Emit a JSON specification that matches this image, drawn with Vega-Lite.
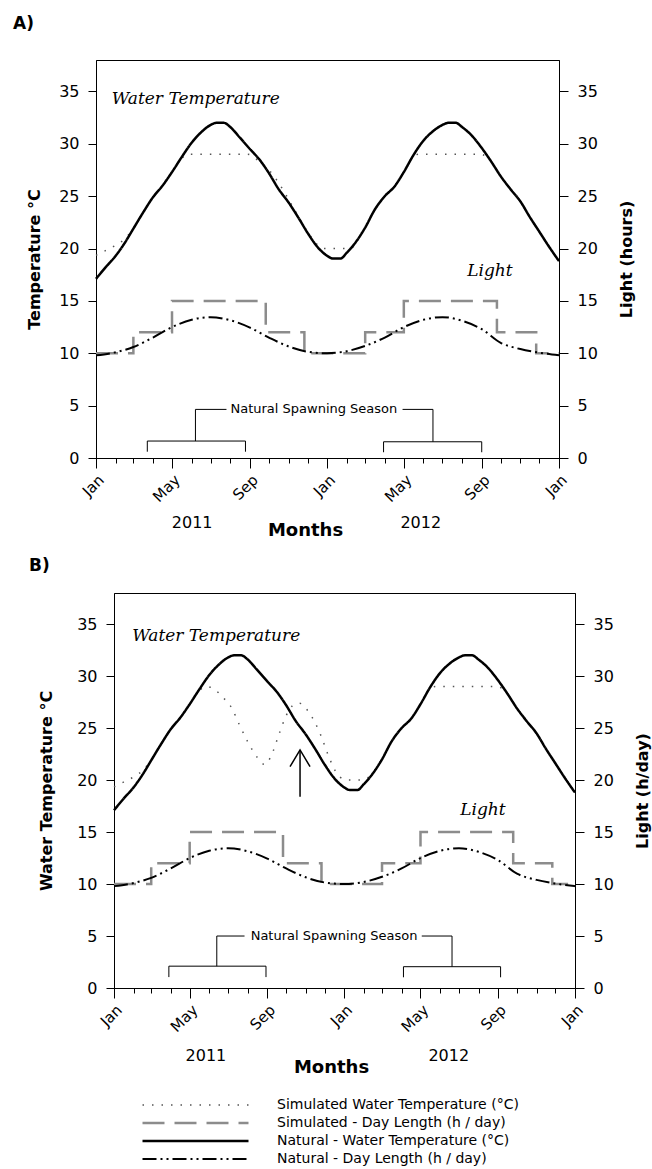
{
  "$schema": "https://vega.github.io/schema/vega-lite/v6.json",
  "background": "white",
  "padding": {"left": 12, "top": 14, "right": 2, "bottom": 2},
  "bounds": "flush",
  "spacing": 135,
  "config": {
    "view": {"stroke": "#000", "strokeWidth": 1},
    "font": "DejaVu Sans",
    "axis": {"grid": false, "domainColor": "#000", "domainWidth": 1, "tickColor": "#000", "tickWidth": 1, "labelColor": "#000", "titleColor": "#000", "labelFont": "DejaVu Sans", "titleFont": "DejaVu Sans", "labelFontSize": 16, "titleFontSize": 16, "titleFontWeight": "bold"},
    "line": {"strokeCap": "butt"}
  },
  "datasets": {
    "natTemp": [
      {"s": "NT", "t": "2011/01/01", "v": 17.1}, {"s": "NT", "t": "2011/01/16", "v": 18.2}, {"s": "NT", "t": "2011/02/01", "v": 19.3}, {"s": "NT", "t": "2011/02/15", "v": 20.5},
      {"s": "NT", "t": "2011/03/01", "v": 21.9}, {"s": "NT", "t": "2011/03/16", "v": 23.4}, {"s": "NT", "t": "2011/04/01", "v": 24.9}, {"s": "NT", "t": "2011/04/16", "v": 26.0},
      {"s": "NT", "t": "2011/05/01", "v": 27.3}, {"s": "NT", "t": "2011/05/16", "v": 28.7}, {"s": "NT", "t": "2011/06/01", "v": 30.1}, {"s": "NT", "t": "2011/06/16", "v": 31.1},
      {"s": "NT", "t": "2011/07/01", "v": 31.8}, {"s": "NT", "t": "2011/07/10", "v": 32.0}, {"s": "NT", "t": "2011/07/22", "v": 32.0}, {"s": "NT", "t": "2011/08/01", "v": 31.6},
      {"s": "NT", "t": "2011/08/16", "v": 30.6}, {"s": "NT", "t": "2011/09/01", "v": 29.5}, {"s": "NT", "t": "2011/09/16", "v": 28.5}, {"s": "NT", "t": "2011/10/01", "v": 27.2},
      {"s": "NT", "t": "2011/10/16", "v": 25.7}, {"s": "NT", "t": "2011/11/01", "v": 24.4}, {"s": "NT", "t": "2011/11/16", "v": 23.0}, {"s": "NT", "t": "2011/12/01", "v": 21.5},
      {"s": "NT", "t": "2011/12/16", "v": 20.2}, {"s": "NT", "t": "2012/01/01", "v": 19.3}, {"s": "NT", "t": "2012/01/10", "v": 19.05}, {"s": "NT", "t": "2012/01/22", "v": 19.05},
      {"s": "NT", "t": "2012/02/01", "v": 19.6}, {"s": "NT", "t": "2012/02/15", "v": 20.6}, {"s": "NT", "t": "2012/03/01", "v": 22.0}, {"s": "NT", "t": "2012/03/16", "v": 23.7},
      {"s": "NT", "t": "2012/04/01", "v": 25.0}, {"s": "NT", "t": "2012/04/16", "v": 25.9}, {"s": "NT", "t": "2012/05/01", "v": 27.3}, {"s": "NT", "t": "2012/05/16", "v": 28.9},
      {"s": "NT", "t": "2012/06/01", "v": 30.3}, {"s": "NT", "t": "2012/06/16", "v": 31.2}, {"s": "NT", "t": "2012/07/01", "v": 31.8}, {"s": "NT", "t": "2012/07/10", "v": 32.0},
      {"s": "NT", "t": "2012/07/22", "v": 32.0}, {"s": "NT", "t": "2012/08/01", "v": 31.6}, {"s": "NT", "t": "2012/08/16", "v": 30.8}, {"s": "NT", "t": "2012/09/01", "v": 29.6},
      {"s": "NT", "t": "2012/09/16", "v": 28.3}, {"s": "NT", "t": "2012/10/01", "v": 26.9}, {"s": "NT", "t": "2012/10/16", "v": 25.7}, {"s": "NT", "t": "2012/11/01", "v": 24.5},
      {"s": "NT", "t": "2012/11/16", "v": 23.0}, {"s": "NT", "t": "2012/12/01", "v": 21.6}, {"s": "NT", "t": "2012/12/16", "v": 20.2}, {"s": "NT", "t": "2013/01/01", "v": 18.8}
    ],
    "natLight": [
      {"s": "NL", "t": "2011/01/01", "v": 9.8}, {"s": "NL", "t": "2011/02/01", "v": 10.1}, {"s": "NL", "t": "2011/03/01", "v": 10.6}, {"s": "NL", "t": "2011/04/01", "v": 11.5},
      {"s": "NL", "t": "2011/05/01", "v": 12.5}, {"s": "NL", "t": "2011/06/01", "v": 13.2}, {"s": "NL", "t": "2011/07/01", "v": 13.45}, {"s": "NL", "t": "2011/08/01", "v": 13.15},
      {"s": "NL", "t": "2011/09/01", "v": 12.45}, {"s": "NL", "t": "2011/10/01", "v": 11.5}, {"s": "NL", "t": "2011/11/01", "v": 10.65}, {"s": "NL", "t": "2011/12/01", "v": 10.15},
      {"s": "NL", "t": "2012/01/01", "v": 10.0}, {"s": "NL", "t": "2012/02/01", "v": 10.2}, {"s": "NL", "t": "2012/03/01", "v": 10.7}, {"s": "NL", "t": "2012/04/01", "v": 11.5},
      {"s": "NL", "t": "2012/05/01", "v": 12.5}, {"s": "NL", "t": "2012/06/01", "v": 13.2}, {"s": "NL", "t": "2012/07/01", "v": 13.45}, {"s": "NL", "t": "2012/08/01", "v": 13.1},
      {"s": "NL", "t": "2012/09/01", "v": 12.3}, {"s": "NL", "t": "2012/10/01", "v": 11.0}, {"s": "NL", "t": "2012/11/01", "v": 10.4}, {"s": "NL", "t": "2012/12/01", "v": 10.05},
      {"s": "NL", "t": "2013/01/01", "v": 9.8}
    ],
    "simLight": [
      {"s": "SL", "t": "2011/01/01", "v": 10}, {"s": "SL", "t": "2011/03/01", "v": 12}, {"s": "SL", "t": "2011/05/01", "v": 15}, {"s": "SL", "t": "2011/09/26", "v": 12},
      {"s": "SL", "t": "2011/11/26", "v": 10}, {"s": "SL", "t": "2012/03/01", "v": 12}, {"s": "SL", "t": "2012/05/01", "v": 15}, {"s": "SL", "t": "2012/09/25", "v": 12},
      {"s": "SL", "t": "2012/11/26", "v": 10}, {"s": "SL", "t": "2013/01/01", "v": 10}
    ],
    "simTempA": [
      {"s": "ST", "t": "2011/01/01", "v": 19.35}, {"s": "ST", "t": "2011/01/16", "v": 19.8}, {"s": "ST", "t": "2011/02/01", "v": 20.3}, {"s": "ST", "t": "2011/02/15", "v": 20.9},
      {"s": "ST", "t": "2011/03/01", "v": 21.9}, {"s": "ST", "t": "2011/03/16", "v": 23.4}, {"s": "ST", "t": "2011/04/01", "v": 24.9}, {"s": "ST", "t": "2011/04/16", "v": 26.0},
      {"s": "ST", "t": "2011/05/01", "v": 27.3}, {"s": "ST", "t": "2011/05/16", "v": 28.6}, {"s": "ST", "t": "2011/05/27", "v": 29.0}, {"s": "ST", "t": "2011/07/01", "v": 29.0},
      {"s": "ST", "t": "2011/08/28", "v": 29.0}, {"s": "ST", "t": "2011/09/16", "v": 28.3}, {"s": "ST", "t": "2011/10/01", "v": 27.5}, {"s": "ST", "t": "2011/10/16", "v": 26.3},
      {"s": "ST", "t": "2011/11/01", "v": 24.7}, {"s": "ST", "t": "2011/11/16", "v": 23.1}, {"s": "ST", "t": "2011/12/01", "v": 21.6}, {"s": "ST", "t": "2011/12/16", "v": 20.4},
      {"s": "ST", "t": "2011/12/27", "v": 20.0}, {"s": "ST", "t": "2012/02/07", "v": 20.0}, {"s": "ST", "t": "2012/02/16", "v": 20.6}, {"s": "ST", "t": "2012/03/01", "v": 22.0},
      {"s": "ST", "t": "2012/03/16", "v": 23.7}, {"s": "ST", "t": "2012/04/01", "v": 25.0}, {"s": "ST", "t": "2012/04/16", "v": 25.9}, {"s": "ST", "t": "2012/05/01", "v": 27.3},
      {"s": "ST", "t": "2012/05/16", "v": 28.8}, {"s": "ST", "t": "2012/05/25", "v": 29.0}, {"s": "ST", "t": "2012/07/01", "v": 29.0}, {"s": "ST", "t": "2012/08/30", "v": 29.0},
      {"s": "ST", "t": "2012/09/16", "v": 28.3}, {"s": "ST", "t": "2012/10/01", "v": 26.9}, {"s": "ST", "t": "2012/10/16", "v": 25.7}, {"s": "ST", "t": "2012/11/01", "v": 24.5},
      {"s": "ST", "t": "2012/11/16", "v": 23.0}, {"s": "ST", "t": "2012/12/01", "v": 21.6}, {"s": "ST", "t": "2012/12/16", "v": 20.2}, {"s": "ST", "t": "2013/01/01", "v": 18.8}
    ],
    "simTempB": [
      {"s": "ST", "t": "2011/01/01", "v": 19.35}, {"s": "ST", "t": "2011/01/16", "v": 19.8}, {"s": "ST", "t": "2011/02/01", "v": 20.3}, {"s": "ST", "t": "2011/02/15", "v": 20.9},
      {"s": "ST", "t": "2011/03/01", "v": 21.9}, {"s": "ST", "t": "2011/03/16", "v": 23.4}, {"s": "ST", "t": "2011/04/01", "v": 24.9}, {"s": "ST", "t": "2011/04/16", "v": 26.0},
      {"s": "ST", "t": "2011/05/01", "v": 27.3}, {"s": "ST", "t": "2011/05/16", "v": 28.6}, {"s": "ST", "t": "2011/05/28", "v": 29.0}, {"s": "ST", "t": "2011/06/10", "v": 28.7},
      {"s": "ST", "t": "2011/06/22", "v": 28.0}, {"s": "ST", "t": "2011/07/07", "v": 26.9}, {"s": "ST", "t": "2011/07/19", "v": 25.3}, {"s": "ST", "t": "2011/08/01", "v": 23.7},
      {"s": "ST", "t": "2011/08/16", "v": 22.2}, {"s": "ST", "t": "2011/08/28", "v": 21.5}, {"s": "ST", "t": "2011/09/07", "v": 22.3}, {"s": "ST", "t": "2011/09/19", "v": 24.3},
      {"s": "ST", "t": "2011/10/01", "v": 26.2}, {"s": "ST", "t": "2011/10/10", "v": 27.1}, {"s": "ST", "t": "2011/10/22", "v": 27.4}, {"s": "ST", "t": "2011/11/04", "v": 26.7},
      {"s": "ST", "t": "2011/11/16", "v": 25.5}, {"s": "ST", "t": "2011/11/25", "v": 24.3}, {"s": "ST", "t": "2011/12/10", "v": 21.9}, {"s": "ST", "t": "2011/12/25", "v": 20.3},
      {"s": "ST", "t": "2012/01/07", "v": 20.0}, {"s": "ST", "t": "2012/01/28", "v": 20.0}, {"s": "ST", "t": "2012/02/13", "v": 20.5}, {"s": "ST", "t": "2012/03/01", "v": 22.0},
      {"s": "ST", "t": "2012/03/16", "v": 23.7}, {"s": "ST", "t": "2012/04/01", "v": 25.0}, {"s": "ST", "t": "2012/04/16", "v": 25.9}, {"s": "ST", "t": "2012/05/01", "v": 27.3},
      {"s": "ST", "t": "2012/05/16", "v": 28.8}, {"s": "ST", "t": "2012/05/25", "v": 29.0}, {"s": "ST", "t": "2012/07/01", "v": 29.0}, {"s": "ST", "t": "2012/08/30", "v": 29.0},
      {"s": "ST", "t": "2012/09/16", "v": 28.3}, {"s": "ST", "t": "2012/10/01", "v": 26.9}, {"s": "ST", "t": "2012/10/16", "v": 25.7}, {"s": "ST", "t": "2012/11/01", "v": 24.5},
      {"s": "ST", "t": "2012/11/16", "v": 23.0}, {"s": "ST", "t": "2012/12/01", "v": 21.6}, {"s": "ST", "t": "2012/12/16", "v": 20.2}, {"s": "ST", "t": "2013/01/01", "v": 18.8}
    ]
  },
  "vconcat": [
    {
      "width": 463,
      "height": 398,
      "title": {"text": "A)", "anchor": "start", "frame": "group", "dx": -83, "offset": 14, "baseline": "alphabetic", "fontSize": 17, "font": "DejaVu Sans", "fontWeight": "bold", "color": "#000"},
      "encoding": {
        "x": {"field": "t", "type": "temporal", "scale": {"domain": [{"year": 2011, "month": 1, "date": 1}, {"year": 2013, "month": 1, "date": 1}], "nice": false}, "axis": null},
        "y": {"field": "v", "type": "quantitative", "scale": {"domain": [0, 38], "nice": false}, "axis": null}
      },
      "layer": [
        {
          "data": {"name": "simLight"},
          "mark": {"type": "line", "interpolate": "step-after"},
          "encoding": {
            "color": {"field": "s", "type": "nominal", "scale": {"domain": ["ST", "SL", "NT", "NL"], "range": ["#555555", "#8c8c8c", "#000000", "#000000"]}, "legend": {"orient": "none", "legendX": 45, "legendY": 1037, "title": null, "symbolType": "stroke", "symbolSize": 11236, "clipHeight": 16, "rowPadding": 2, "padding": 0, "labelFont": "DejaVu Sans", "labelFontSize": 14, "labelColor": "#000", "labelOffset": 27, "labelLimit": 400, "labelExpr": "datum.label == 'ST' ? 'Simulated Water Temperature (°C)' : datum.label == 'SL' ? 'Simulated - Day Length (h / day)' : datum.label == 'NT' ? 'Natural - Water Temperature (°C)' : 'Natural - Day Length (h / day)'"}},
            "strokeDash": {"field": "s", "type": "nominal", "scale": {"domain": ["ST", "SL", "NT", "NL"], "range": [[1.5, 8], [22, 10], [1, 0], [14, 4, 2, 4, 2, 4]]}, "legend": {"orient": "none", "legendX": 45, "legendY": 1037, "title": null, "symbolType": "stroke", "symbolSize": 11236, "clipHeight": 16, "rowPadding": 2, "padding": 0, "labelFont": "DejaVu Sans", "labelFontSize": 14, "labelColor": "#000", "labelOffset": 27, "labelLimit": 400, "labelExpr": "datum.label == 'ST' ? 'Simulated Water Temperature (°C)' : datum.label == 'SL' ? 'Simulated - Day Length (h / day)' : datum.label == 'NT' ? 'Natural - Water Temperature (°C)' : 'Natural - Day Length (h / day)'"}},
            "strokeWidth": {"field": "s", "type": "nominal", "scale": {"type": "ordinal", "domain": ["ST", "SL", "NT", "NL"], "range": [1.5, 2.5, 2.5, 2]}, "legend": {"orient": "none", "legendX": 45, "legendY": 1037, "title": null, "symbolType": "stroke", "symbolSize": 11236, "clipHeight": 16, "rowPadding": 2, "padding": 0, "labelFont": "DejaVu Sans", "labelFontSize": 14, "labelColor": "#000", "labelOffset": 27, "labelLimit": 400, "labelExpr": "datum.label == 'ST' ? 'Simulated Water Temperature (°C)' : datum.label == 'SL' ? 'Simulated - Day Length (h / day)' : datum.label == 'NT' ? 'Natural - Water Temperature (°C)' : 'Natural - Day Length (h / day)'"}}
          }
        },
        {
          "data": {"name": "simTempA"},
          "mark": {"type": "line", "interpolate": "monotone"},
          "encoding": {
            "color": {"field": "s", "type": "nominal", "scale": {"domain": ["ST", "SL", "NT", "NL"], "range": ["#555555", "#8c8c8c", "#000000", "#000000"]}},
            "strokeDash": {"field": "s", "type": "nominal", "scale": {"domain": ["ST", "SL", "NT", "NL"], "range": [[1.5, 8], [22, 10], [1, 0], [14, 4, 2, 4, 2, 4]]}},
            "strokeWidth": {"field": "s", "type": "nominal", "scale": {"type": "ordinal", "domain": ["ST", "SL", "NT", "NL"], "range": [1.5, 2.5, 2.5, 2]}}
          }
        },
        {
          "data": {"name": "natLight"},
          "mark": {"type": "line", "interpolate": "monotone"},
          "encoding": {
            "color": {"field": "s", "type": "nominal", "scale": {"domain": ["ST", "SL", "NT", "NL"], "range": ["#555555", "#8c8c8c", "#000000", "#000000"]}},
            "strokeDash": {"field": "s", "type": "nominal", "scale": {"domain": ["ST", "SL", "NT", "NL"], "range": [[1.5, 8], [22, 10], [1, 0], [14, 4, 2, 4, 2, 4]]}},
            "strokeWidth": {"field": "s", "type": "nominal", "scale": {"type": "ordinal", "domain": ["ST", "SL", "NT", "NL"], "range": [1.5, 2.5, 2.5, 2]}}
          }
        },
        {
          "data": {"name": "natTemp"},
          "mark": {"type": "line", "interpolate": "monotone"},
          "encoding": {
            "x": {"field": "t", "type": "temporal", "scale": {"domain": [{"year": 2011, "month": 1, "date": 1}, {"year": 2013, "month": 1, "date": 1}], "nice": false},
              "axis": {"orient": "bottom", "tickCount": {"interval": "month", "step": 1}, "labelExpr": "month(datum.value) % 4 == 0 ? timeFormat(datum.value, '%b') : ''", "tickSize": {"condition": {"test": "month(datum.value) % 4 == 0", "value": 10}, "value": 5}, "labelAngle": -45, "labelAlign": "right", "labelBaseline": "top", "labelPadding": 4, "labelFontSize": 15, "labelFlush": false, "labelOverlap": false, "labelBound": false, "title": null}},
            "y": {"field": "v", "type": "quantitative", "scale": {"domain": [0, 38], "nice": false},
              "axis": {"orient": "left", "values": [0, 5, 10, 15, 20, 25, 30, 35], "tickSize": 8, "labelPadding": 9, "title": "Temperature °C", "titlePadding": 16}},
            "color": {"field": "s", "type": "nominal", "scale": {"domain": ["ST", "SL", "NT", "NL"], "range": ["#555555", "#8c8c8c", "#000000", "#000000"]}},
            "strokeDash": {"field": "s", "type": "nominal", "scale": {"domain": ["ST", "SL", "NT", "NL"], "range": [[1.5, 8], [22, 10], [1, 0], [14, 4, 2, 4, 2, 4]]}},
            "strokeWidth": {"field": "s", "type": "nominal", "scale": {"type": "ordinal", "domain": ["ST", "SL", "NT", "NL"], "range": [1.5, 2.5, 2.5, 2]}}
          }
        },
        {
          "data": {
            "values": [
              {"t": "2011/03/23", "t2": "2011/08/25", "v": 1.62, "v2": 1.62},
              {"t": "2011/03/23", "t2": "2011/03/23", "v": 1.62, "v2": 0.6},
              {"t": "2011/08/25", "t2": "2011/08/25", "v": 1.62, "v2": 0.6},
              {"t": "2011/06/07", "t2": "2011/06/07", "v": 1.62, "v2": 4.64},
              {"t": "2011/06/07", "t2": "2011/07/26", "v": 4.64, "v2": 4.64},
              {"t": "2012/04/29", "t2": "2012/06/16", "v": 4.64, "v2": 4.64},
              {"t": "2012/06/16", "t2": "2012/06/16", "v": 4.64, "v2": 1.55},
              {"t": "2012/03/30", "t2": "2012/09/01", "v": 1.55, "v2": 1.55},
              {"t": "2012/03/30", "t2": "2012/03/30", "v": 1.55, "v2": 0.55},
              {"t": "2012/09/01", "t2": "2012/09/01", "v": 1.55, "v2": 0.55}
            ],
            "format": {"parse": {"t": "date", "t2": "date"}}
          },
          "mark": {"type": "rule", "color": "#000", "strokeWidth": 1},
          "encoding": {
            "x": {"field": "t", "type": "temporal", "scale": {"domain": [{"year": 2011, "month": 1, "date": 1}, {"year": 2013, "month": 1, "date": 1}], "nice": false},
              "axis": {"orient": "bottom", "values": [{"year": 2011, "month": 6, "date": 1}, {"year": 2012, "month": 5, "date": 27}], "format": "%Y", "ticks": false, "tickSize": 0, "domain": false, "labelPadding": 64, "labelBaseline": "middle", "labelAngle": 0, "labelAlign": "center", "labelFontSize": 16, "labelFlush": false, "labelOverlap": false, "title": "Months", "titleFontSize": 18, "titleX": 209, "titleY": 72, "titleBaseline": "middle", "titleAlign": "center"}},
            "x2": {"field": "t2"},
            "y": {"field": "v", "type": "quantitative", "scale": {"domain": [0, 38], "nice": false},
              "axis": {"orient": "right", "values": [0, 5, 10, 15, 20, 25, 30, 35], "tickSize": 9, "labelPadding": 9, "title": "Light (hours)", "titlePadding": 21, "titleAngle": 270, "titleBaseline": "top"}},
            "y2": {"field": "v2"}
          }
        },
        {
          "data": {"values": [{"t": "2011/01/26", "v": 34.3, "label": "Water Temperature"}, {"t": "2012/08/09", "v": 17.9, "label": "Light"}]},
          "mark": {"type": "text", "align": "left", "baseline": "middle", "font": "DejaVu Serif", "fontStyle": "italic", "fontSize": 17, "color": "#000"},
          "encoding": {"text": {"field": "label"}}
        },
        {
          "data": {"values": [{"t": "2011/12/11", "v": 4.64, "label": "Natural Spawning Season"}]},
          "mark": {"type": "text", "align": "center", "baseline": "middle", "font": "DejaVu Sans", "fontSize": 13, "color": "#000"},
          "encoding": {"text": {"field": "label"}}
        }
      ],
      "resolve": {"axis": {"x": "independent", "y": "independent"}}
    },
    {
      "bounds": "flush",
      "spacing": 0,
      "hconcat": [
        {
          "width": 18,
          "height": 395,
          "view": {"stroke": null},
          "data": {"values": []},
          "mark": {"type": "point", "opacity": 0},
          "encoding": {}
        },
        {
          "width": 461,
          "height": 395,
          "title": {"text": "B)", "anchor": "start", "frame": "group", "dx": -85, "offset": 5, "baseline": "alphabetic", "fontSize": 17, "font": "DejaVu Sans", "fontWeight": "bold", "color": "#000"},
          "encoding": {
            "x": {"field": "t", "type": "temporal", "scale": {"domain": [{"year": 2011, "month": 1, "date": 1}, {"year": 2013, "month": 1, "date": 1}], "nice": false}, "axis": null},
            "y": {"field": "v", "type": "quantitative", "scale": {"domain": [0, 38], "nice": false}, "axis": null}
          },
          "layer": [
            {
              "data": {"name": "simLight"},
              "mark": {"type": "line", "interpolate": "step-after"},
              "encoding": {
                "color": {"field": "s", "type": "nominal", "scale": {"domain": ["ST", "SL", "NT", "NL"], "range": ["#555555", "#8c8c8c", "#000000", "#000000"]}},
                "strokeDash": {"field": "s", "type": "nominal", "scale": {"domain": ["ST", "SL", "NT", "NL"], "range": [[1.5, 8], [22, 10], [1, 0], [14, 4, 2, 4, 2, 4]]}},
                "strokeWidth": {"field": "s", "type": "nominal", "scale": {"type": "ordinal", "domain": ["ST", "SL", "NT", "NL"], "range": [1.5, 2.5, 2.5, 2]}}
              }
            },
            {
              "data": {"name": "simTempB"},
              "mark": {"type": "line", "interpolate": "monotone"},
              "encoding": {
                "color": {"field": "s", "type": "nominal", "scale": {"domain": ["ST", "SL", "NT", "NL"], "range": ["#555555", "#8c8c8c", "#000000", "#000000"]}},
                "strokeDash": {"field": "s", "type": "nominal", "scale": {"domain": ["ST", "SL", "NT", "NL"], "range": [[1.5, 8], [22, 10], [1, 0], [14, 4, 2, 4, 2, 4]]}},
                "strokeWidth": {"field": "s", "type": "nominal", "scale": {"type": "ordinal", "domain": ["ST", "SL", "NT", "NL"], "range": [1.5, 2.5, 2.5, 2]}}
              }
            },
            {
              "data": {"name": "natLight"},
              "mark": {"type": "line", "interpolate": "monotone"},
              "encoding": {
                "color": {"field": "s", "type": "nominal", "scale": {"domain": ["ST", "SL", "NT", "NL"], "range": ["#555555", "#8c8c8c", "#000000", "#000000"]}},
                "strokeDash": {"field": "s", "type": "nominal", "scale": {"domain": ["ST", "SL", "NT", "NL"], "range": [[1.5, 8], [22, 10], [1, 0], [14, 4, 2, 4, 2, 4]]}},
                "strokeWidth": {"field": "s", "type": "nominal", "scale": {"type": "ordinal", "domain": ["ST", "SL", "NT", "NL"], "range": [1.5, 2.5, 2.5, 2]}}
              }
            },
            {
              "data": {"name": "natTemp"},
              "mark": {"type": "line", "interpolate": "monotone"},
              "encoding": {
                "x": {"field": "t", "type": "temporal", "scale": {"domain": [{"year": 2011, "month": 1, "date": 1}, {"year": 2013, "month": 1, "date": 1}], "nice": false},
                  "axis": {"orient": "bottom", "tickCount": {"interval": "month", "step": 1}, "labelExpr": "month(datum.value) % 4 == 0 ? timeFormat(datum.value, '%b') : ''", "tickSize": {"condition": {"test": "month(datum.value) % 4 == 0", "value": 10}, "value": 5}, "labelAngle": -45, "labelAlign": "right", "labelBaseline": "top", "labelPadding": 4, "labelFontSize": 15, "labelFlush": false, "labelOverlap": false, "labelBound": false, "title": null}},
                "y": {"field": "v", "type": "quantitative", "scale": {"domain": [0, 38], "nice": false},
                  "axis": {"orient": "left", "values": [0, 5, 10, 15, 20, 25, 30, 35], "tickSize": 8, "labelPadding": 9, "title": "Water Temperature °C", "titlePadding": 22}},
                "color": {"field": "s", "type": "nominal", "scale": {"domain": ["ST", "SL", "NT", "NL"], "range": ["#555555", "#8c8c8c", "#000000", "#000000"]}},
                "strokeDash": {"field": "s", "type": "nominal", "scale": {"domain": ["ST", "SL", "NT", "NL"], "range": [[1.5, 8], [22, 10], [1, 0], [14, 4, 2, 4, 2, 4]]}},
                "strokeWidth": {"field": "s", "type": "nominal", "scale": {"type": "ordinal", "domain": ["ST", "SL", "NT", "NL"], "range": [1.5, 2.5, 2.5, 2]}}
              }
            },
            {
              "data": {
                "values": [
                  {"t": "2011/03/29", "t2": "2011/08/30", "v": 2.1, "v2": 2.1},
                  {"t": "2011/03/29", "t2": "2011/03/29", "v": 2.1, "v2": 1.05},
                  {"t": "2011/08/30", "t2": "2011/08/30", "v": 2.1, "v2": 1.05},
                  {"t": "2011/06/13", "t2": "2011/06/13", "v": 2.1, "v2": 5.0},
                  {"t": "2011/06/13", "t2": "2011/07/27", "v": 5.0, "v2": 5.0},
                  {"t": "2012/05/03", "t2": "2012/06/20", "v": 5.0, "v2": 5.0},
                  {"t": "2012/06/20", "t2": "2012/06/20", "v": 5.0, "v2": 2.05},
                  {"t": "2012/04/04", "t2": "2012/09/05", "v": 2.05, "v2": 2.05},
                  {"t": "2012/04/04", "t2": "2012/04/04", "v": 2.05, "v2": 1.03},
                  {"t": "2012/09/05", "t2": "2012/09/05", "v": 2.05, "v2": 1.03}
                ],
                "format": {"parse": {"t": "date", "t2": "date"}}
              },
              "mark": {"type": "rule", "color": "#000", "strokeWidth": 1},
              "encoding": {
                "x": {"field": "t", "type": "temporal", "scale": {"domain": [{"year": 2011, "month": 1, "date": 1}, {"year": 2013, "month": 1, "date": 1}], "nice": false},
                  "axis": {"orient": "bottom", "values": [{"year": 2011, "month": 5, "date": 26}, {"year": 2012, "month": 6, "date": 14}], "format": "%Y", "ticks": false, "tickSize": 0, "domain": false, "labelPadding": 67, "labelBaseline": "middle", "labelAngle": 0, "labelAlign": "center", "labelFontSize": 16, "labelFlush": false, "labelOverlap": false, "title": "Months", "titleFontSize": 18, "titleX": 217, "titleY": 79.5, "titleBaseline": "middle", "titleAlign": "center"}},
                "x2": {"field": "t2"},
                "y": {"field": "v", "type": "quantitative", "scale": {"domain": [0, 38], "nice": false},
                  "axis": {"orient": "right", "values": [0, 5, 10, 15, 20, 25, 30, 35], "tickSize": 9, "labelPadding": 9, "title": "Light (h/day)", "titlePadding": 21, "titleAngle": 270, "titleBaseline": "top"}},
                "y2": {"field": "v2"}
              }
            },
            {
              "data": {"values": [{"t": "2011/10/23", "v": 18.4, "v2": 22.9}], "format": {"parse": {"t": "date"}}},
              "mark": {"type": "rule", "color": "#000", "strokeWidth": 1.5},
              "encoding": {"y2": {"field": "v2"}}
            },
            {
              "data": {"values": [{"t": "2011/10/23", "v": 22.9}], "format": {"parse": {"t": "date"}}},
              "mark": {"type": "point", "shape": "M-0.6,1L0,0L0.6,1", "size": 1115, "filled": false, "color": "#000", "strokeWidth": 1.5, "opacity": 1},
              "encoding": {}
            },
            {
              "data": {"values": [{"t": "2011/01/30", "v": 33.9, "label": "Water Temperature"}, {"t": "2012/07/03", "v": 17.1, "label": "Light"}]},
              "mark": {"type": "text", "align": "left", "baseline": "middle", "font": "DejaVu Serif", "fontStyle": "italic", "fontSize": 17, "color": "#000"},
              "encoding": {"text": {"field": "label"}}
            },
            {
              "data": {"values": [{"t": "2011/12/16", "v": 5.0, "label": "Natural Spawning Season"}]},
              "mark": {"type": "text", "align": "center", "baseline": "middle", "font": "DejaVu Sans", "fontSize": 13, "color": "#000"},
              "encoding": {"text": {"field": "label"}}
            }
          ],
          "resolve": {"axis": {"x": "independent", "y": "independent"}}
        }
      ]
    }
  ]
}
